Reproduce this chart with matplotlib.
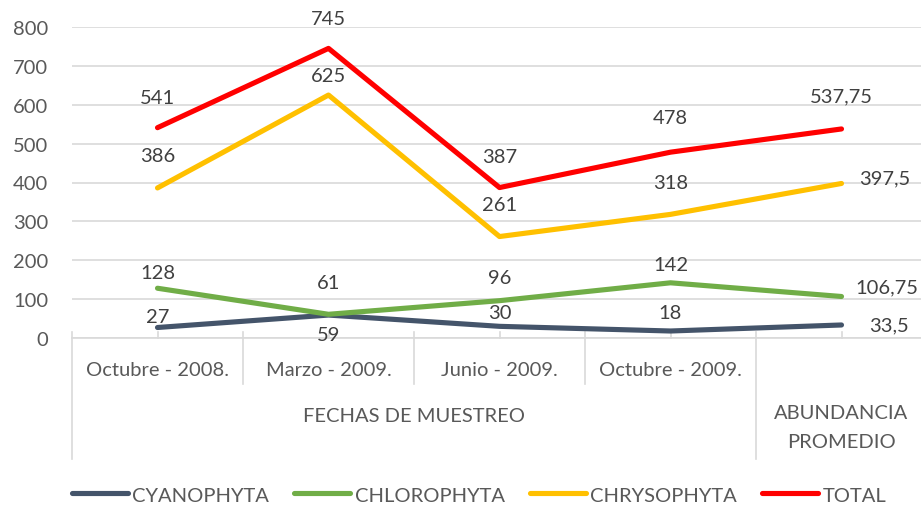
import matplotlib.pyplot as plt

plt.rcParams['font.family'] = ['Lato', 'DejaVu Sans']

fechas = ["Octubre - 2008.", "Marzo - 2009.", "Junio - 2009.", "Octubre - 2009.", ""]
cyano = [27, 59, 30, 18, 33.5]
chloro = [128, 61, 96, 142, 106.75]
chryso = [386, 625, 261, 318, 397.5]
total = [541, 745, 387, 478, 537.75]

# label offsets in pixels (dx, dy)
off_cyano = [(0, 11), (0, -19), (0, 14), (0, 19), (47, 0)]
off_chloro = [(0, 16), (0, 32), (0, 23), (0, 18), (45, 10)]
off_chryso = [(0, 32), (0, 20), (0, 32), (0, 32), (43, 6)]
off_total = [(0, 30), (0, 30), (0, 31), (0, 35), (0, 33)]

series = [
    ("CYANOPHYTA", cyano, "#44546A", off_cyano),
    ("CHLOROPHYTA", chloro, "#70AD47", off_chloro),
    ("CHRYSOPHYTA", chryso, "#FFC000", off_chryso),
    ("TOTAL", total, "#FF0000", off_total),
]

fig = plt.figure(figsize=(9.21, 5.10), dpi=100)
ax = fig.add_axes([72 / 921, 171 / 510, 855 / 921, 311 / 510])

x = list(range(len(fechas)))
fs = 14.5
lab_col = "#404040"

for name, vals, col, offs in series:
    ax.plot(x, vals, color=col, lw=3.7, label=name,
            solid_capstyle="round", solid_joinstyle="round", zorder=3)
    for xi, v, (dx, dy) in zip(x, vals, offs):
        txt = f"{v:g}".replace(".", ",")
        ax.annotate(txt, (xi, v), xytext=(dx, dy), textcoords="offset pixels",
                    ha="center", va="center", fontsize=fs, color=lab_col,
                    annotation_clip=False, zorder=4)

ax.set_xlim(-0.5, 4.5)
ax.set_ylim(0, 800)
ax.set_yticks(range(0, 801, 100))
ax.set_xticks([])
ax.tick_params(axis="y", length=0, pad=17, labelsize=fs, labelcolor="#595959")
ax.grid(axis="y", color="#D9D9D9", lw=1.2)
ax.set_axisbelow(True)
for s in ax.spines.values():
    s.set_visible(False)

# category axis (two levels)
tr = ax.get_xaxis_transform()
grey = "#D9D9D9"
ax.plot([-0.5, 4.5], [0, 0], transform=tr, color=grey, lw=1.2, clip_on=False)
for b in [-0.5, 3.5]:
    ax.plot([b, b], [0.019, -0.389], transform=tr, color=grey, lw=1.2, clip_on=False)
for b in [0.5, 1.5, 2.5]:
    ax.plot([b, b], [0.019, -0.148], transform=tr, color=grey, lw=1.2, clip_on=False)
for xi in x:
    ax.plot([xi, xi], [0.019, 0], transform=tr, color=grey, lw=1.2, clip_on=False)

for xi, f in zip(x, fechas):
    ax.text(xi, -0.0997, f, transform=tr, ha="center", va="center",
            fontsize=fs, color="#595959")
ax.text(1.5, -0.248, "FECHAS DE MUESTREO", transform=tr, ha="center",
        va="center", fontsize=fs, color="#595959")
ax.text(4, -0.238, "ABUNDANCIA", transform=tr, ha="center", va="center",
        fontsize=fs, color="#595959")
ax.text(4, -0.332, "PROMEDIO", transform=tr, ha="center", va="center",
        fontsize=fs, color="#595959")

leg = fig.legend(loc="center", bbox_to_anchor=(0.52, 0.0275), ncol=4,
                 frameon=False, fontsize=fs, handlelength=2.8,
                 handletextpad=0.2, columnspacing=1.25, labelcolor="#595959")

fig.savefig("out.png", dpi=100)
